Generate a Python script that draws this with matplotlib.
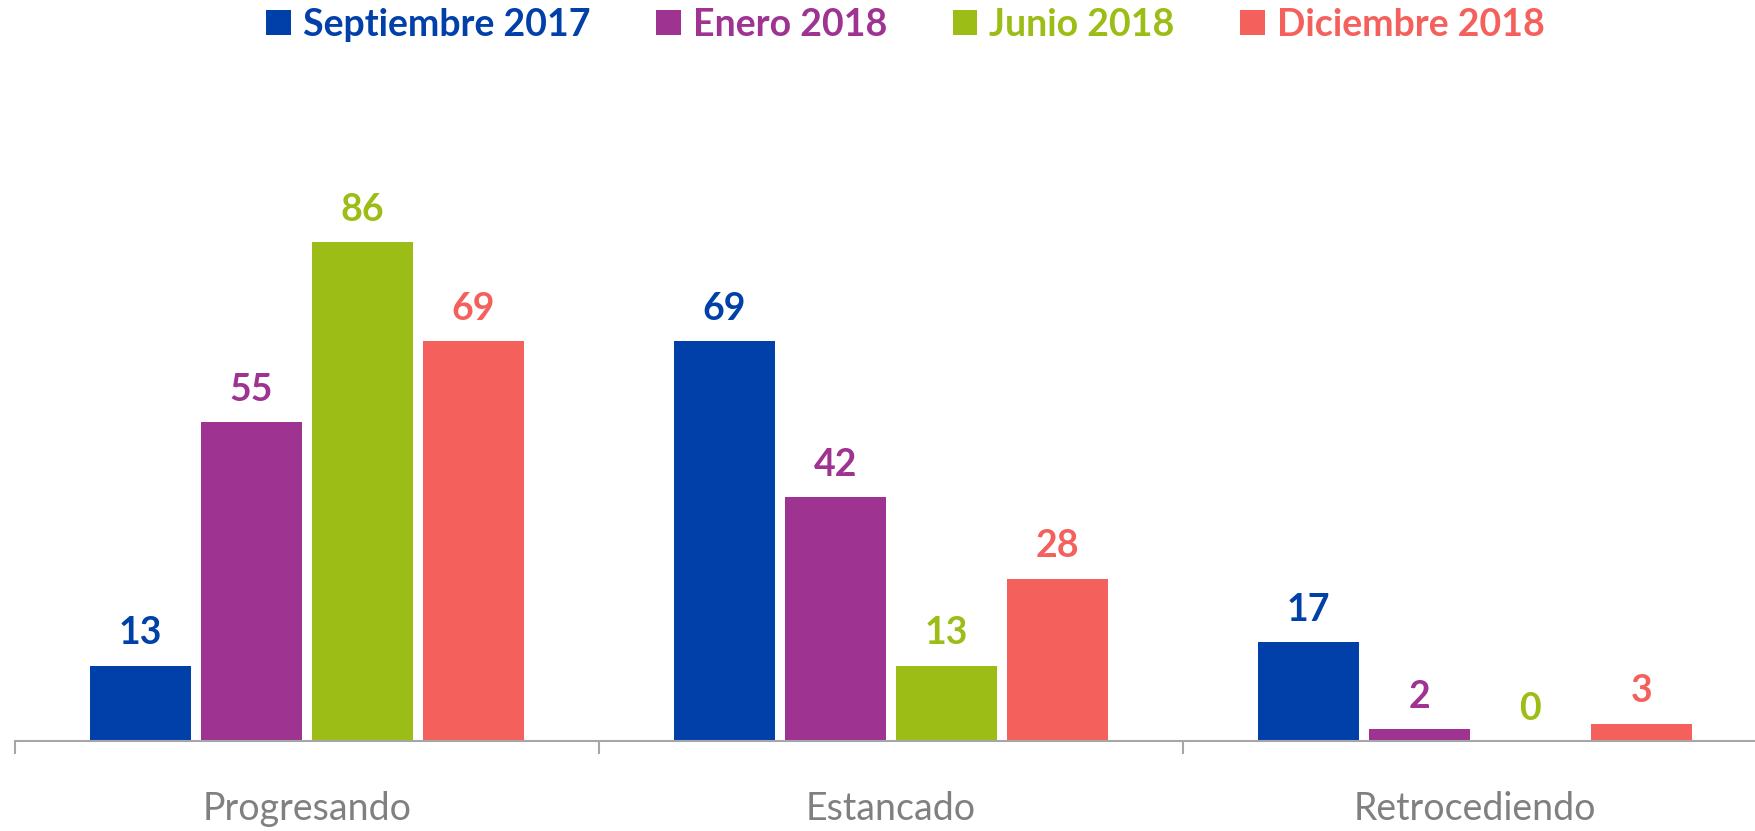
import matplotlib
matplotlib.use("Agg")
import matplotlib.pyplot as plt
import numpy as np

categories = ["Progresando", "Estancado", "Retrocediendo"]
series_names = ["Septiembre 2017", "Enero 2018", "Junio 2018", "Diciembre 2018"]
sep_2017 = [13, 69, 17]
ene_2018 = [55, 42, 2]
jun_2018 = [86, 13, 0]
dic_2018 = [69, 28, 3]
colors = ["#0040A8", "#9E3391", "#9BBD15", "#F4615D"]

series = [sep_2017, ene_2018, jun_2018, dic_2018]

plt.rcParams['font.family'] = ['Lato', 'DejaVu Sans']

fig = plt.figure(figsize=(17.55, 8.31), dpi=100)
W, H = 1755, 831
left_px, axis_px, group_px = 15, 741, 584
px_per_unit = 5.80
ymax = 100
ax = fig.add_axes([left_px / W, (H - axis_px) / H, 3 * group_px / W, ymax * px_per_unit / H])

x = np.arange(len(categories)) + 0.5
pitch = 0.19
width = 0.172
bars = []
for i, (vals, col) in enumerate(zip(series, colors)):
    b = ax.bar(x + (i - 1.5) * pitch, vals, width, color=col, label=series_names[i], zorder=2)
    bars.append(b)
    ax.bar_label(b, labels=[str(v) for v in vals], padding=11, color=col,
                 fontsize=27, fontweight='bold')

ax.set_xlim(0, 3)
ax.set_ylim(0, ymax)
for s in ['top', 'right', 'left']:
    ax.spines[s].set_visible(False)
ax.spines['bottom'].set_color('#A6A6A6')
ax.spines['bottom'].set_linewidth(1.5)
ax.set_yticks([])
ax.set_xticks([0, 1, 2, 3])
ax.set_xticklabels([])
ax.tick_params(axis='x', which='major', length=9.5, width=1.5, color='#A6A6A6', direction='out')
ax.set_xticks(x, minor=True)
ax.set_xticklabels(categories, minor=True, fontsize=27, color='#808080', fontweight='normal')
ax.tick_params(axis='x', which='minor', length=0, pad=36)

leg = fig.legend(handles=bars, labels=series_names, loc='center', ncol=4,
                 bbox_to_anchor=(0.516, 1 - 25 / H), frameon=False,
                 prop={'size': 27, 'weight': 'bold'},
                 handlelength=0.66, handleheight=0.66, handletextpad=0.32,
                 columnspacing=1.75)
for t, c in zip(leg.get_texts(), colors):
    t.set_color(c)

fig.savefig("out.png", dpi=100)
